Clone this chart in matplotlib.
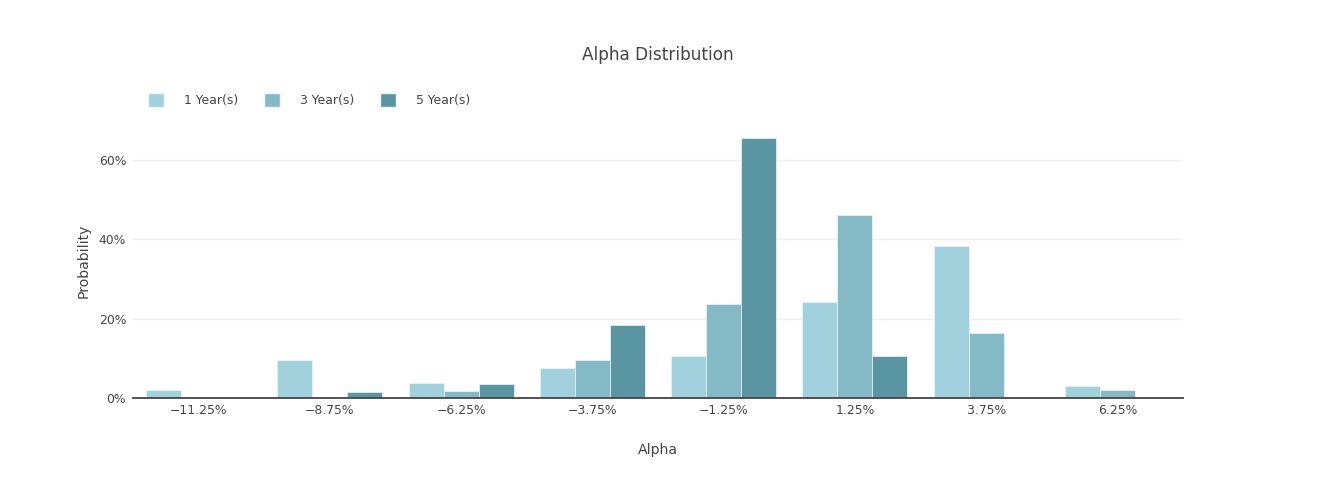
import numpy as np
import matplotlib
matplotlib.use("Agg")
import matplotlib.pyplot as plt
from matplotlib.patches import Patch
from matplotlib.ticker import FuncFormatter

plt.rcParams['font.family'] = ['DejaVu Sans']

# bin centres of the alpha histogram (%)
bin_centers = [-11.25, -8.75, -6.25, -3.75, -1.25, 1.25, 3.75, 6.25]
bin_width = 2.5

# probability per bin (%)
one_year = [2.0, 9.6, 3.9, 7.6, 10.6, 24.2, 38.3, 3.0]
three_year = [0.0, 0.0, 1.8, 9.5, 23.7, 46.0, 16.4, 2.0]
five_year = [0.0, 1.6, 3.5, 18.3, 65.5, 10.7, 0.0, 0.0]

series = [("1 Year(s)", one_year, "#a1d1dc"),
          ("3 Year(s)", three_year, "#84bac6"),
          ("5 Year(s)", five_year, "#5a95a2")]

fig = plt.figure(figsize=(13.32, 5.0), dpi=100)
ax = fig.add_axes([133 / 1332, 102 / 500, 1050 / 1332, 273.5 / 500])

# plotly style grouping: bargap 0.2, bars share the rest
bar_w = bin_width * 0.8 / 3
x = np.array(bin_centers)
for i, (name, vals, col) in enumerate(series):
    offs = (i - 1) * bar_w
    vals = np.array(vals)
    mask = vals > 0
    ax.bar(x[mask] + offs, vals[mask], width=bar_w, color=col,
           edgecolor="#eef6f8", linewidth=0.5, zorder=3)

ax.set_xlim(-12.5, 7.5)
ax.set_ylim(0, 68.9)
ax.set_xticks(bin_centers)
ax.set_xticklabels([f"{v:.2f}%".replace("-", "\u2212") for v in bin_centers])
ax.set_yticks([0, 20, 40, 60])
ax.yaxis.set_major_formatter(FuncFormatter(lambda v, p: f"{v:.0f}%"))

ax.grid(axis="y", color="#eeeeee", linewidth=1, zorder=0)
ax.axhline(0, color="#444444", linewidth=1.3, zorder=5, clip_on=False)
for s in ax.spines.values():
    s.set_visible(False)
ax.tick_params(axis="both", length=0, labelsize=8.9, colors="#444444")
ax.tick_params(axis="x", pad=4)
ax.tick_params(axis="y", pad=5)

ax.set_xlabel("Alpha", fontsize=10.1, color="#444444", labelpad=19)
ax.set_ylabel("Probability", fontsize=10.1, color="#444444", labelpad=6)

fig.text(658 / 1332, 1 - 55 / 500, "Alpha Distribution", ha="center", va="center",
         fontsize=12.2, color="#444444")

handles = [Patch(facecolor=c, edgecolor="#eef6f8") for _, _, c in series]
labels = [n for n, _, _ in series]
fig.legend(handles, labels, loc="center left", bbox_to_anchor=(137 / 1332, 1 - 100 / 500),
           ncol=3, frameon=False, fontsize=8.9, labelcolor="#444444",
           handlelength=1.3, handleheight=1.3, handletextpad=1.6, columnspacing=2.1)

fig.savefig("out.png", dpi=100, facecolor="white")
